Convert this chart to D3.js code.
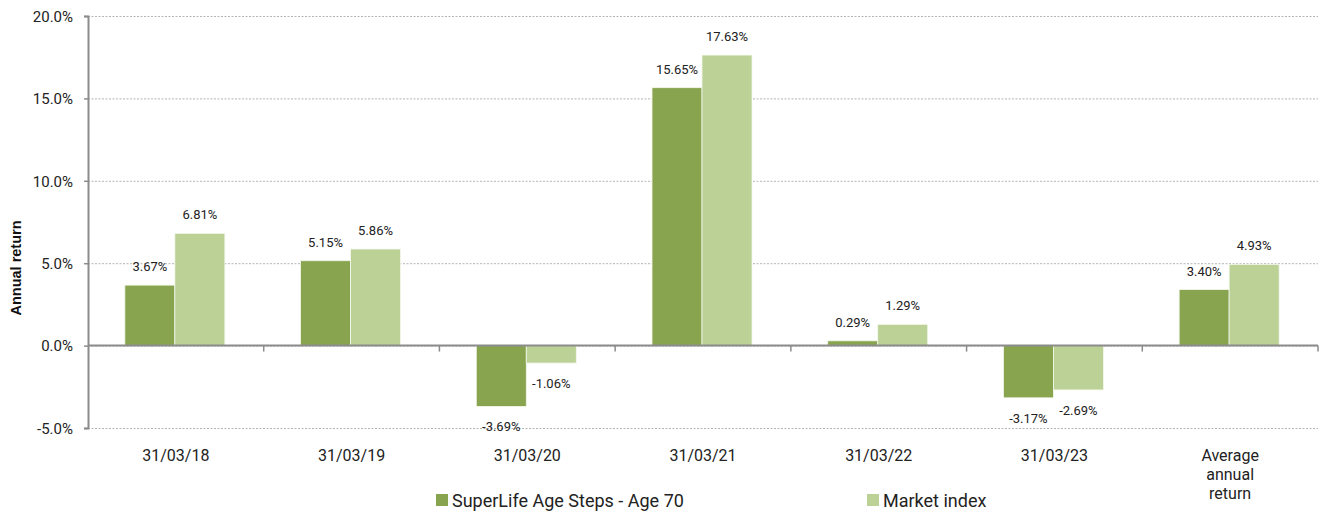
<!DOCTYPE html>
<html>
<head>
<meta charset="utf-8">
<script src="https://cdn.jsdelivr.net/npm/d3@7"></script>
<style>
  body { margin: 0; background: #fff; }
  svg { font-family: Roboto, "Noto Sans", sans-serif; }
</style>
</head>
<body>
<svg id="chart" width="1320" height="514"></svg>
<script>
// Chart data
const categories = ["31/03/18", "31/03/19", "31/03/20", "31/03/21", "31/03/22", "31/03/23", "Average annual return"];
const seriesNames = ["SuperLife Age Steps - Age 70", "Market index"];
const fundReturns = [3.67, 5.15, -3.69, 15.65, 0.29, -3.17, 3.40];
const indexReturns = [6.81, 5.86, -1.06, 17.63, 1.29, -2.69, 4.93];
const yTicks = [-5, 0, 5, 10, 15, 20];

const colors = ["#88a44f", "#bbd196"];

const width = 1320, height = 514;
const margin = {top: 16, right: 2, bottom: 86, left: 88};
const svg = d3.select("#chart");

const x0 = d3.scaleBand()
    .domain(categories)
    .range([margin.left, width - margin.right])
    .padding(0);

const x1 = d3.scaleBand()
    .domain(seriesNames)
    .range([0, x0.bandwidth()])
    .paddingInner(0)
    .paddingOuter(0.757);

const y = d3.scaleLinear()
    .domain([-5, 20])
    .range([height - margin.bottom, margin.top]);

// Gridlines
svg.append("g")
    .selectAll("line")
    .data(yTicks)
    .enter()
    .append("line")
    .attr("x1", margin.left)
    .attr("x2", width - margin.right)
    .attr("y1", d => y(d) + 0.5)
    .attr("y2", d => y(d) + 0.5)
    .attr("stroke", "#b4b4b4")
    .attr("stroke-dasharray", "2,1.5")
    .attr("stroke-width", 1);

// Bars
const rows = categories.map((c, i) => ({cat: c, values: [fundReturns[i], indexReturns[i]]}));

const groups = svg.append("g")
    .selectAll("g")
    .data(rows)
    .enter()
    .append("g")
    .attr("transform", d => `translate(${x0(d.cat) - 1},0)`);

groups.selectAll("rect")
    .data(d => d.values.map((v, j) => ({name: seriesNames[j], value: v, j: j})))
    .enter()
    .append("rect")
    .attr("x", d => x1(d.name))
    .attr("width", x1.bandwidth())
    .attr("y", d => y(Math.max(0, d.value)))
    .attr("height", d => Math.abs(y(d.value) - y(0)))
    .attr("fill", d => colors[d.j])
    .attr("stroke", "#f4f8ee")
    .attr("stroke-width", 0.8);

// Value labels
groups.selectAll("text")
    .data(d => d.values.map((v, j) => ({name: seriesNames[j], value: v, j: j})))
    .enter()
    .append("text")
    .attr("x", d => x1(d.name) + x1.bandwidth() / 2)
    .attr("y", d => d.value >= 0 ? y(d.value) - 14 : y(d.value) + 25)
    .attr("text-anchor", "middle")
    .attr("font-size", "13px")
    .attr("fill", "#222")
    .text(d => d.value.toFixed(2) + "%");

// Y axis
const yAxis = d3.axisLeft(y)
    .tickValues(yTicks)
    .tickSize(4)
    .tickFormat(d => d.toFixed(1) + "%");

const yG = svg.append("g")
    .attr("transform", `translate(${margin.left},0)`)
    .call(yAxis);
yG.select(".domain").attr("stroke", "#8c8c8c").attr("stroke-width", 2);
yG.selectAll(".tick line").attr("stroke", "#8c8c8c").attr("stroke-width", 1.5);
yG.selectAll(".tick text")
    .attr("font-size", "15px")
    .attr("font-family", "Roboto, sans-serif")
    .attr("fill", "#222")
    .attr("x", -15)
    .attr("dy", "0.35em");

// X axis at zero
svg.append("line")
    .attr("x1", margin.left)
    .attr("x2", width - margin.right)
    .attr("y1", y(0))
    .attr("y2", y(0))
    .attr("stroke", "#8c8c8c")
    .attr("stroke-width", 2);

const boundaries = categories.map(c => x0(c)).concat([x0(categories[categories.length - 1]) + x0.bandwidth()]);
svg.append("g")
    .selectAll("line")
    .data(boundaries.slice(1))
    .enter()
    .append("line")
    .attr("x1", d => d)
    .attr("x2", d => d)
    .attr("y1", y(0))
    .attr("y2", y(0) + 6)
    .attr("stroke", "#8c8c8c")
    .attr("stroke-width", 1.5);

// Category labels
const catLabels = svg.append("g")
    .selectAll("text")
    .data(categories)
    .enter()
    .append("text")
    .attr("x", d => x0(d) + x0.bandwidth() / 2)
    .attr("y", 461)
    .attr("text-anchor", "middle")
    .attr("font-size", "16px")
    .attr("fill", "#222");

catLabels.each(function(d) {
    const words = d === "Average annual return" ? ["Average", "annual", "return"] : [d];
    const t = d3.select(this);
    words.forEach((w, i) => {
        t.append("tspan")
            .attr("x", x0(d) + x0.bandwidth() / 2)
            .attr("dy", i === 0 ? 0 : 19)
            .text(w);
    });
});

// Y axis title
svg.append("text")
    .attr("transform", "rotate(-90)")
    .attr("x", -268)
    .attr("y", 21)
    .attr("text-anchor", "middle")
    .attr("font-family", "'Liberation Sans', Arial, sans-serif")
    .attr("font-size", "14.5px")
    .attr("font-weight", "bold")
    .attr("fill", "#111")
    .text("Annual return");

// Legend
const legendX = [436, 867];
seriesNames.forEach((name, i) => {
    const g = svg.append("g")
        .attr("transform", `translate(${legendX[i]}, 494)`);
    g.append("rect")
        .attr("width", 12)
        .attr("height", 12)
        .attr("fill", colors[i]);
    g.append("text")
        .attr("x", 16)
        .attr("y", 13)
        .attr("font-size", "18px")
        .attr("fill", "#222")
        .text(name);
});
</script>
</body>
</html>
